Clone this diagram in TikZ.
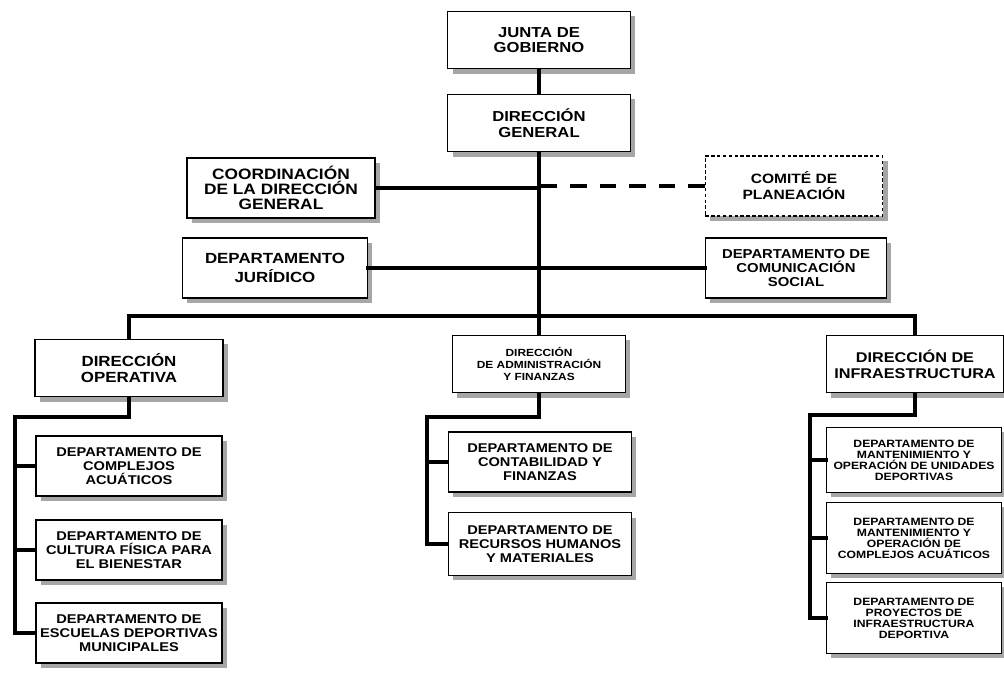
\documentclass[tikz,border=0pt]{standalone}
\usepackage{fontspec}
\setmainfont{Liberation Sans}[FakeStretch=1.15]
\usetikzlibrary{shadows}

\tikzset{
  box/.style={draw,line width=1.1pt,fill=white,align=center,inner sep=1pt,
    drop shadow={shadow xshift=4pt,shadow yshift=-4pt,fill=black!35,opacity=1}},
  head/.style={box,minimum width=155pt,minimum height=49pt,
    font=\fontsize{12.3}{13.2}\selectfont\bfseries},
  staff/.style={box,minimum width=156pt,minimum height=51pt,
    font=\fontsize{12}{12.8}\selectfont\bfseries},
  dir/.style={box,minimum width=150pt,minimum height=49pt,
    font=\fontsize{12.5}{14}\selectfont\bfseries},
  dept/.style={box,minimum width=158pt,minimum height=51pt,
    font=\fontsize{10.8}{11.8}\selectfont\bfseries},
  deptsm/.style={box,minimum width=149pt,minimum height=57pt,
    font=\fontsize{9}{9.4}\selectfont\bfseries},
  link/.style={line width=3.2pt,line cap=rect},
}

\begin{document}
\begin{tikzpicture}[x=0.85pt,y=-0.85pt]
\useasboundingbox (0,0) rectangle (1004,673);
% cabeza
\node[head] (junta) at (539,40) {JUNTA DE\\GOBIERNO};
\node[head] (general) at (539,123) {DIRECCI\'ON\\GENERAL};
% staff
\node[staff,minimum width=160pt,font=\fontsize{12.8}{13}\selectfont\bfseries] (coord) at (281,188) {COORDINACI\'ON\\DE LA DIRECCI\'ON\\GENERAL};
\node[staff,dash pattern=on 3pt off 2pt,minimum width=151pt,font=\fontsize{11.5}{13.5}\selectfont\bfseries] (comite) at (794,186) {COMIT\'E DE\\PLANEACI\'ON};
\node[staff,minimum width=157pt,font=\fontsize{12.5}{16}\selectfont\bfseries] (juridico) at (275,268) {DEPARTAMENTO\\JUR\'IDICO};
\node[staff,minimum width=154pt,font=\fontsize{11}{11.6}\selectfont\bfseries] (comunic) at (796,268) {DEPARTAMENTO DE\\COMUNICACI\'ON\\SOCIAL};
% direcciones
\node[dir,minimum width=160pt] (operativa) at (129,368) {DIRECCI\'ON\\OPERATIVA};
\node[dir,minimum width=147pt,font=\fontsize{8.8}{10}\selectfont\bfseries] (admin) at (539,364) {DIRECCI\'ON\\DE ADMINISTRACI\'ON\\Y FINANZAS};
\node[dir,font=\fontsize{12}{13.5}\selectfont\bfseries] (infra) at (915,364) {DIRECCI\'ON DE\\INFRAESTRUCTURA};
% departamentos
\node[dept] (complejos) at (129,466) {DEPARTAMENTO DE\\COMPLEJOS\\ACU\'ATICOS};
\node[dept] (cultura) at (129,550) {DEPARTAMENTO DE\\CULTURA F\'ISICA PARA\\EL BIENESTAR};
\node[dept] (escuelas) at (129,633) {DEPARTAMENTO DE\\ESCUELAS DEPORTIVAS\\MUNICIPALES};
\node[dept,minimum width=156pt] (contab) at (540,462) {DEPARTAMENTO DE\\CONTABILIDAD Y\\FINANZAS};
\node[dept,minimum width=156pt,minimum height=53pt] (rrhh) at (540,544) {DEPARTAMENTO DE\\RECURSOS HUMANOS\\Y MATERIALES};
\node[deptsm,minimum height=55pt] (mantuni) at (914,460) {DEPARTAMENTO DE\\MANTENIMIENTO Y\\OPERACI\'ON DE UNIDADES\\DEPORTIVAS};
\node[deptsm,minimum height=60pt] (mantcompl) at (914,538) {DEPARTAMENTO DE\\MANTENIMIENTO Y\\OPERACI\'ON DE\\COMPLEJOS ACU\'ATICOS};
\node[deptsm,minimum height=60pt] (proyectos) at (914,618) {DEPARTAMENTO DE\\PROYECTOS DE\\INFRAESTRUCTURA\\DEPORTIVA};
% lineas
\draw[link] (junta) -- (general);
\draw[link] (general) -- (admin);
\draw[link] (coord.east) -- (coord.east -| general.south);
\draw[link,line cap=butt,dash pattern=on 14pt off 11pt] (comite.west) -- (comite.west -| general.south);
\draw[link] (juridico.east) -- (juridico.east -| general.south);
\draw[link] (comunic.west) -- (comunic.west -| general.south);
\coordinate (bus) at (539,316);
\draw[link] (operativa.north) |- (bus) -| (infra.north);
\coordinate (opturn) at (15,417);
\draw[link] (operativa.south) |- (opturn) |- (escuelas.west);
\draw[link] (opturn |- complejos.west) -- (complejos.west);
\draw[link] (opturn |- cultura.west) -- (cultura.west);
\coordinate (adturn) at (427,417);
\draw[link] (admin.south) |- (adturn) |- (rrhh.west);
\draw[link] (adturn |- contab.west) -- (contab.west);
\coordinate (inturn) at (810,415);
\draw[link] (infra.south) |- (inturn) |- (proyectos.west);
\draw[link] (inturn |- mantuni.west) -- (mantuni.west);
\draw[link] (inturn |- mantcompl.west) -- (mantcompl.west);
\end{tikzpicture}
\end{document}
